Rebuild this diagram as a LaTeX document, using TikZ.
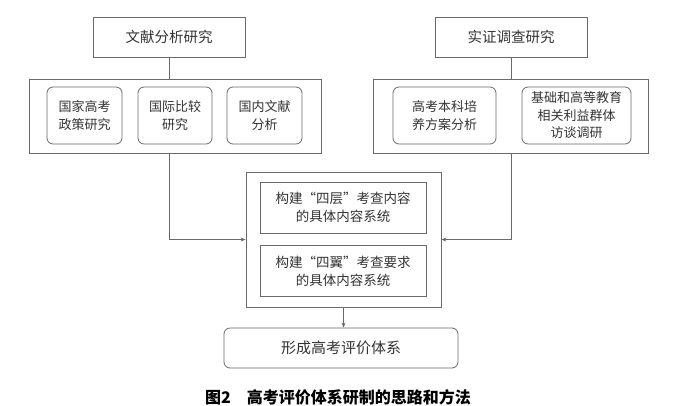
\documentclass[tikz,border=0pt]{standalone}
\usepackage{fontspec}
\setmainfont{Noto Sans CJK SC}
\usepackage{xcolor}
\definecolor{cLine}{HTML}{6A6A6A}
\definecolor{cText}{HTML}{333333}
\usepackage{tikz}
\usetikzlibrary{positioning,arrows.meta,calc}
\tikzset{
  node-top/.style={draw=cLine,thick,minimum width=152pt,minimum height=40pt,
    align=center,font=\fontsize{14.5}{18}\selectfont},
  node-group/.style={draw=cLine,thick,minimum height=74pt},
  node-item/.style={draw=cLine,thick,rounded corners=6pt,minimum height=57pt,
    align=center,font=\fontsize{13}{17.5}\selectfont},
  node-step/.style={draw=cLine,thick,minimum width=166pt,minimum height=51pt,
    align=center,font=\fontsize{13.5}{17.5}\selectfont},
  node-result/.style={draw=cLine,thick,rounded corners=6pt,minimum width=234pt,
    minimum height=40pt,font=\fontsize{15}{18}\selectfont},
  arrow/.style={-{Stealth[length=5pt,width=4pt]},thick,draw=cLine},
  link/.style={thick,draw=cLine},
}

\begin{document}
\begin{tikzpicture}[x=1pt,y=-1pt,every node/.style={text=cText}]
  \useasboundingbox (0,0) rectangle (680,405);
  % 两条研究路线
  \node[node-top] (wx) at (169,37) {文献分析研究};
  \node[node-top] (sz) at (511,37) {实证调查研究};
  \node[node-group,minimum width=292pt] (wxg) at (175,116) {};
  \node[node-group,minimum width=275pt] (szg) at (510.5,116) {};
  \node[node-item,minimum width=75pt] (zc) at (84.5,115.5) {国家高考\\政策研究};
  \node[node-item,minimum width=74pt] (gj) at (175,115.5) {国际比较\\研究};
  \node[node-item,minimum width=75pt] (gn) at (264.5,115.5) {国内文献\\分析};
  \node[node-item,minimum width=103pt] (pa) at (444.5,115.5) {高考本科培\\养方案分析};
  \node[node-item,minimum width=109pt] (ft) at (576.5,115.5) {基础和高等教育\\相关利益群体\\访谈调研};
  % 中间构建内容
  \node[draw=cLine,thick,minimum width=195pt,minimum height=135pt] (mg) at (343.5,239.5) {};
  \node[node-step] (sc) at (343,207.5) {构建“四层”考查内容\\的具体内容系统};
  \node[node-step,below=12pt of sc] (sy) {构建“四翼”考查要求\\的具体内容系统};
  \node[node-result] (tx) at (341,348) {形成高考评价体系};
  \node[font=\fontsize{16}{18}\selectfont\bfseries,text=black] (cap) at (338,397)
    {图2\hspace{1em}高考评价体系研制的思路和方法};
  \draw[link] (wx.south) -- (wx.south |- wxg.north);
  \draw[link] (sz.south) -- (sz.south |- szg.north);
  \draw[arrow] (wxg.south -| wx.south) |- (mg.west);
  \draw[arrow] (szg.south -| sz.south) |- (mg.east);
  \draw[arrow] (mg.south) -- (mg.south |- tx.north);
\end{tikzpicture}
\end{document}
